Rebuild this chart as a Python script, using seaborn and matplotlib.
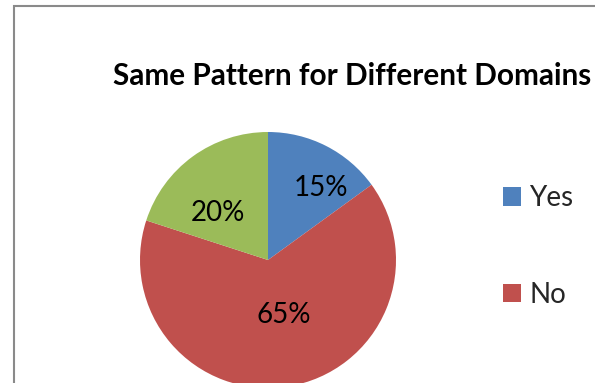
import matplotlib
matplotlib.use("Agg")
import matplotlib.pyplot as plt
from matplotlib.patches import Rectangle
import seaborn as sns

# Survey answers and their shares (percent)
categories = ["Yes", "No", "Other"]
shares = [15, 65, 20]
legend_labels = ["Yes", "No"]
title = "Same Pattern for Different Domains"

sns.set_style("white")
plt.rcParams["font.family"] = ["Lato", "DejaVu Sans"]

colors = sns.color_palette(["#4F81BD", "#C0504D", "#9BBB59"])

W, H = 595, 383
fig = plt.figure(figsize=(W / 100, H / 100), dpi=100)

# Chart-area border (runs off the right and bottom edges)
fig.patches.append(Rectangle((13.5 / W, -0.2), 2.0, 1.2 - 5.5 / H,
                             transform=fig.transFigure, fill=False,
                             edgecolor="#8a8a8a", linewidth=1.5))

# Pie axes: centre at (268, 260) px, radius 128 px
cx, cy, r = 268, 260, 128
ax = fig.add_axes([(cx - r) / W, (H - cy - r) / H, 2 * r / W, 2 * r / H])

wedges, _, autotexts = ax.pie(
    shares, colors=colors, startangle=90, counterclock=False,
    autopct=lambda p: f"{p:.0f}%", radius=1.0,
    wedgeprops=dict(linewidth=0),
    textprops=dict(fontsize=20, color="black"))
ax.set_xlim(-1, 1)
ax.set_ylim(-1, 1)
ax.set_aspect("equal")
ax.axis("off")

# label placement inside each slice (in pie-radius units)
label_pos = [(0.41, 0.56), (0.12, -0.43), (-0.39, 0.37)]
for t, (x, y) in zip(autotexts, label_pos):
    t.set_position((x, y))
    t.set_ha("center")
    t.set_va("center")

fig.text(352 / W, 1 - 85 / H, title, ha="center", va="baseline",
         fontsize=21.4, fontweight="bold", color="black")

fig.legend(wedges[:2], legend_labels, loc="upper left",
           bbox_to_anchor=(492 / W, 1 - 174 / H), frameon=False,
           fontsize=20, handlelength=0.65, handleheight=0.65,
           handletextpad=0.3, labelspacing=2.55, borderaxespad=0)

fig.savefig("out.png", dpi=100)
